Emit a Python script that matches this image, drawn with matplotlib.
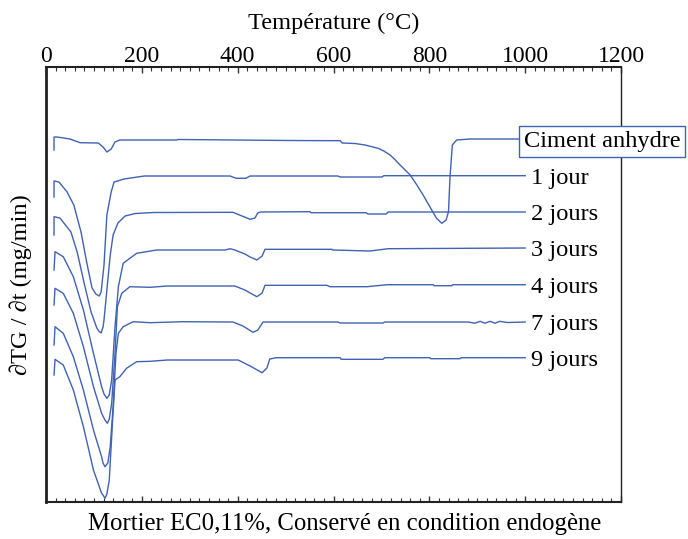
import matplotlib.pyplot as plt
from matplotlib.ticker import MultipleLocator

plt.rcParams["font.family"] = ["Liberation Serif", "DejaVu Serif"]

# DTG curves (temperature in °C, signal in arbitrary offset units)
ciment_T = [16.7, 16.7, 23, 50, 71, 109, 119, 127, 136, 144, 154, 273, 275, 509, 614, 618,
            645, 666, 693, 705, 718, 728, 739, 760, 774, 787, 801, 815, 826, 835, 840, 843,
            848, 857, 885, 1000]
ciment_v = [35.2, 36.5, 36.5, 36.3, 35.93, 35.9, 35.5, 35.0, 35.3, 36.0, 36.2, 36.2, 36.25,
            36.15, 36.13, 35.9, 35.85, 35.7, 35.37, 35.1, 34.7, 34.25, 33.7, 32.7, 31.7, 30.7,
            29.53, 28.37, 27.87, 28.2, 29.03, 32.37, 35.7, 36.2, 36.3, 36.3]

j1_T = [16.7, 16.7, 27, 44, 58, 73, 86, 96, 104, 111, 115, 121, 127, 136, 142, 163, 205, 384,
        397, 417, 426, 609, 614, 701, 705, 1000]
j1_v = [30.5, 32.1, 32.0, 31.0, 29.7, 27.0, 23.7, 21.4, 20.8, 20.6, 21.0, 23.7, 28.7, 31.0,
        32.0, 32.3, 32.6, 32.6, 32.37, 32.37, 32.6, 32.6, 32.5, 32.5, 32.63, 32.63]

j2_T = [16.7, 16.7, 29, 52, 65, 79, 94, 106, 110, 115, 119, 121, 127, 134, 140, 150, 165, 186,
        225, 390, 409, 426, 436, 442, 447, 551, 553, 668, 672, 710, 714, 1000]
j2_v = [26.7, 28.53, 28.4, 27.0, 25.0, 22.0, 19.0, 17.4, 17.1, 16.9, 17.5, 18.2, 21.2, 24.7,
        26.7, 27.9, 28.6, 28.85, 28.95, 28.97, 28.6, 28.27, 28.4, 28.9, 29.0, 29.03, 28.93,
        28.93, 28.8, 28.8, 29.0, 29.0]

j3_T = [16.7, 18.8, 36, 57, 78, 99, 116, 121, 127, 132, 137, 144, 151, 161, 189, 231, 374, 384,
        394, 415, 426, 440, 451, 457, 597, 598, 676, 714, 1000]
j3_v = [23.2, 25.03, 24.53, 22.53, 19.2, 14.87, 11.53, 10.8, 10.37, 10.7, 12.2, 17.53, 21.53,
        23.87, 24.87, 25.2, 25.2, 25.33, 25.2, 24.8, 24.5, 24.2, 24.6, 25.27, 25.27, 25.2,
        25.1, 25.33, 25.4]

j4_T = [16.7, 18.8, 36, 57, 78, 99, 116, 123, 128, 132, 137, 144, 149, 158, 175, 217, 253, 394,
        415, 440, 451, 457, 586, 593, 670, 712, 808, 810, 847, 849, 1000]
j4_v = [19.7, 21.37, 20.87, 18.87, 15.53, 11.53, 8.87, 8.2, 7.87, 8.3, 9.87, 14.87, 19.53,
        20.87, 21.53, 21.47, 21.6, 21.6, 21.2, 20.53, 20.9, 21.67, 21.67, 21.53, 21.53, 21.73,
        21.73, 21.63, 21.63, 21.73, 21.73]

j7_T = [16.7, 18.8, 36, 57, 78, 99, 116, 119, 123, 129, 134, 140, 146, 151, 161, 182, 217, 286,
        390, 411, 432, 442, 453, 609, 614, 703, 707, 881, 895, 906, 916, 927, 937, 947, 962,
        1000]
j7_v = [15.7, 17.53, 16.87, 14.53, 11.2, 7.2, 4.53, 3.9, 3.53, 3.9, 5.53, 9.53, 14.87, 16.87,
        17.53, 18.03, 17.93, 18.03, 18.0, 17.6, 16.97, 17.2, 18.0, 18.0, 17.9, 17.9, 18.0,
        18.0, 17.88, 18.07, 17.88, 18.07, 17.88, 18.07, 17.95, 18.0]

j9_T = [16.7, 18.8, 36, 57, 78, 99, 116, 119, 123, 127, 132, 139, 144, 154, 168, 189, 217, 253,
        401, 426, 451, 461, 467, 480, 614, 616, 703, 707, 801, 803, 864, 866, 1000]
j9_v = [12.7, 14.27, 13.7, 11.2, 7.53, 3.2, 0.87, 0.7, 0.37, 0.8, 2.2, 8.2, 12.2, 12.53, 13.37,
        14.03, 14.07, 14.2, 14.2, 13.6, 12.93, 13.4, 14.3, 14.43, 14.43, 14.27, 14.27, 14.43,
        14.43, 14.33, 14.33, 14.43, 14.43]

labels = ["1 jour", "2 jours", "3 jours", "4 jours", "7 jours", "9 jours"]
curves = [(j1_T, j1_v), (j2_T, j2_v), (j3_T, j3_v), (j4_T, j4_v), (j7_T, j7_v), (j9_T, j9_v)]

blue = "#3f62b4"
fs = 17.6

fig = plt.figure(figsize=(6.88, 5.39), dpi=100)
ax = fig.add_axes([0.0669, 0.0686, 0.8357, 0.8071])

ax.plot(ciment_T, ciment_v, color=blue, lw=1.0)
ax.text(997, ciment_v[-1], "Ciment anhydre", fontsize=fs, va="center_baseline", ha="left",
        bbox=dict(boxstyle="square,pad=0.2", fc="white", ec=blue, lw=1.0))

for (T, v), lab in zip(curves, labels):
    ax.plot(T, v, color=blue, lw=1.0)
    ax.text(1012, v[-1], lab, fontsize=fs, va="center_baseline", ha="left")

ax.set_xlim(0, 1200)
ax.set_ylim(0, 43.5)

# top axis with labels, bottom axis ticks only
ax.xaxis.set_major_locator(MultipleLocator(200))
ax.xaxis.set_minor_locator(MultipleLocator(20))
ax.tick_params(axis="x", which="both", direction="in", top=True, bottom=True,
               labeltop=True, labelbottom=False, labelsize=17, pad=0, color="#333333")
ax.tick_params(axis="x", which="major", length=4, width=1.0)
ax.tick_params(axis="x", which="minor", length=3, width=0.8)
ax.xaxis.set_label_position("top")
ax.set_xlabel("Température (°C)", fontsize=fs, labelpad=12)
ax.set_yticks([])
ax.set_ylabel("∂TG / ∂t (mg/min)", fontsize=fs, labelpad=10)

for side, lw in [("left", 2.0), ("top", 1.5), ("bottom", 1.5), ("right", 1.0)]:
    ax.spines[side].set_linewidth(lw)
    ax.spines[side].set_color("#222222")

ax.text(0.52, -0.025, "Mortier EC0,11%, Conservé en condition endogène", fontsize=17.8,
        ha="center", va="top", transform=ax.transAxes)

fig.savefig("out.png", dpi=100)
